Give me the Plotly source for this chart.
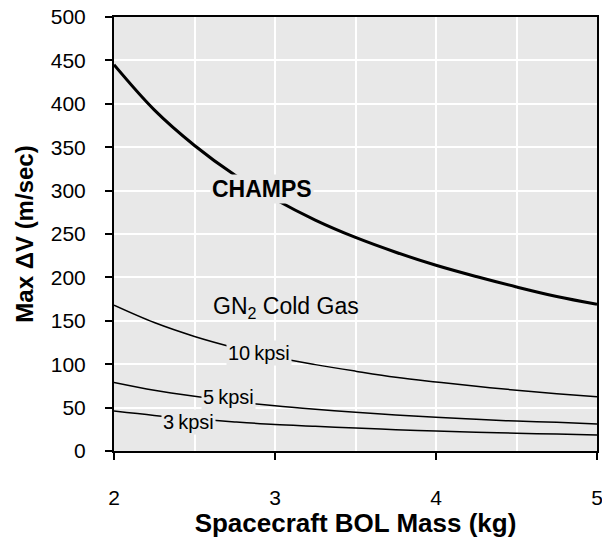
import plotly.graph_objects as go

mass = [2.0, 2.25, 2.5, 2.75, 3.0, 3.25, 3.5, 3.75, 4.0, 4.25, 4.5, 4.75, 5.0]
champs = [445, 393, 352, 318, 290, 266, 246, 229, 214, 201, 189, 178, 169]
gn2_10kpsi = [168, 148, 132, 119, 108, 99.5, 92, 85, 79.5, 74.5, 70, 66, 62.5]
gn2_5kpsi = [79, 70, 63, 57, 52, 48, 44.5, 41.5, 39, 36.5, 34.5, 33, 31]
gn2_3kpsi = [46, 41, 37, 33.5, 30.5, 28.5, 26.5, 24.5, 23, 21.5, 20.5, 19.5, 18.5]

x_ticks = [2, 3, 4, 5]
y_ticks = list(range(0, 501, 50))

BG = "#e8e8e8"
FONT = "Liberation Sans, Arial, sans-serif"

fig = go.Figure()
fig.add_trace(go.Scatter(x=mass, y=champs, mode="lines", line=dict(color="black", width=3, shape="spline"), showlegend=False))
for ys in (gn2_10kpsi, gn2_5kpsi, gn2_3kpsi):
    fig.add_trace(go.Scatter(x=mass, y=ys, mode="lines", line=dict(color="black", width=1.5, shape="spline"), showlegend=False))

fig.add_annotation(x=2.92, y=302, text="<b>CHAMPS</b>", showarrow=False, bgcolor=BG,
                   font=dict(family=FONT, size=23, color="black"))
fig.add_annotation(x=3.07, y=165, text="GN<sub>2</sub> Cold Gas", showarrow=False,
                   font=dict(family=FONT, size=23, color="black"))
fig.add_annotation(x=2.90, y=113, text="10\u2009kpsi", showarrow=False, bgcolor=BG,
                   font=dict(family=FONT, size=20, color="black"))
fig.add_annotation(x=2.71, y=62, text="5\u2009kpsi", showarrow=False, bgcolor=BG,
                   font=dict(family=FONT, size=20, color="black"))
fig.add_annotation(x=2.46, y=33, text="3\u2009kpsi", showarrow=False, bgcolor=BG,
                   font=dict(family=FONT, size=20, color="black"))

fig.update_layout(
    width=602, height=538,
    margin=dict(l=114, r=5, t=17, b=87, autoexpand=False),
    paper_bgcolor="white", plot_bgcolor=BG,
    font=dict(family=FONT, size=21, color="black"),
    showlegend=False,
)
fig.update_xaxes(
    range=[2, 5], tickvals=x_ticks, ticktext=[str(v) for v in x_ticks],
    automargin=False,
    showgrid=True, gridcolor="white", gridwidth=2,
    minor=dict(dtick=0.5, showgrid=True, gridcolor="white", gridwidth=2, ticks=""),
    showline=True, linecolor="black", linewidth=2, mirror=True,
    ticks="outside", ticklen=7, tickwidth=1.5, tickcolor="black",
    ticklabelstandoff=20, ticklabeloverflow="allow", zeroline=False,
    title=dict(text="<b>Spacecraft BOL Mass (kg)</b>", font=dict(size=26), standoff=6),
)
fig.update_yaxes(
    range=[0, 500], tickvals=y_ticks,
    automargin=False,
    showgrid=True, gridcolor="white", gridwidth=2,
    showline=True, linecolor="black", linewidth=2, mirror=True,
    ticks="outside", ticklen=7, tickwidth=1.5, tickcolor="black",
    ticklabelstandoff=15, ticklabeloverflow="allow", zeroline=False,
    title=dict(text="<b>Max \u0394V (m/sec)</b>", font=dict(size=24), standoff=10),
)

fig.write_html(
    "out.html",
    config={"displayModeBar": False},
    post_script="document.body.style.margin='0';",
)
